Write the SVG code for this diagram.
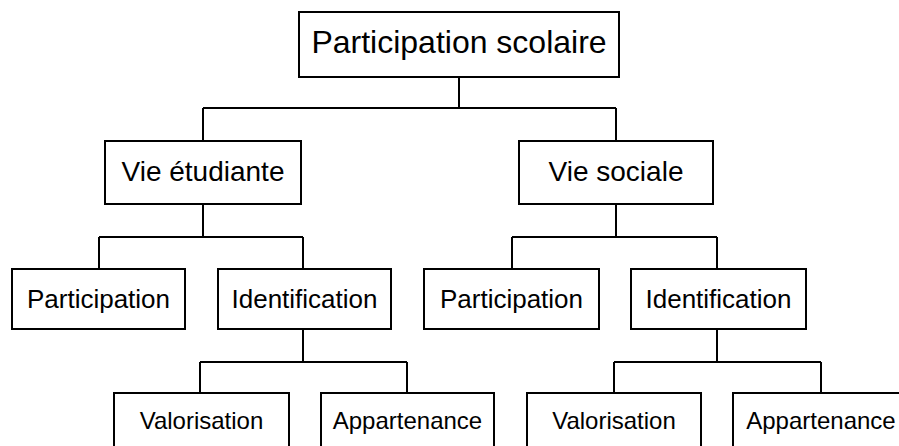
<svg xmlns="http://www.w3.org/2000/svg" width="899" height="446" viewBox="0 0 899 446">
<style>
rect{fill:#fff;stroke:#000;stroke-width:2}
text{font-family:"Liberation Sans",Arial,sans-serif;fill:#000;text-anchor:middle}
.l0{font-size:32px}.l1{font-size:28px}.l2{font-size:26px}.l3{font-size:24px}
#connectors path{fill:none;stroke:#000;stroke-width:2}
</style>
<rect x="0" y="0" width="899" height="446" style="stroke:none"/>
<g id="connectors">
<path d="M459 77V108M203 108H616M203 108V141M616 108V141"/>
<path d="M203 204V237M99 237H303M99 237V269M303 237V269"/>
<path d="M616 204V237M512 237H717M512 237V269M717 237V269"/>
<path d="M303 329V362M200 362H407M200 362V393M407 362V393"/>
<path d="M717 329V362M614 362H821M614 362V393M821 362V393"/>
</g>
<g id="root"><rect x="299" y="12" width="320" height="65"/><text class="l0" x="459" y="53">Participation scolaire</text></g>
<g id="vie-etudiante"><rect x="105" y="141" width="196" height="63"/><text class="l1" x="203" y="181">Vie étudiante</text></g>
<g id="vie-sociale"><rect x="519" y="141" width="194" height="63"/><text class="l1" x="616" y="181">Vie sociale</text></g>
<g id="participation-1"><rect x="12" y="269" width="173" height="60"/><text class="l2" x="98.5" y="308">Participation</text></g>
<g id="identification-1"><rect x="218" y="269" width="173" height="60"/><text class="l2" x="304.5" y="308">Identification</text></g>
<g id="participation-2"><rect x="424" y="269" width="175" height="60"/><text class="l2" x="511.5" y="308">Participation</text></g>
<g id="identification-2"><rect x="631" y="269" width="175" height="60"/><text class="l2" x="718.5" y="308">Identification</text></g>
<g id="valorisation-1"><rect x="114" y="393" width="175" height="70"/><text class="l3" x="201.5" y="429">Valorisation</text></g>
<g id="appartenance-1"><rect x="321" y="393" width="173" height="70"/><text class="l3" x="407.5" y="429">Appartenance</text></g>
<g id="valorisation-2"><rect x="527" y="393" width="174" height="70"/><text class="l3" x="614" y="429">Valorisation</text></g>
<g id="appartenance-2"><rect x="733" y="393" width="176" height="70"/><text class="l3" x="821" y="429">Appartenance</text></g>
</svg>
